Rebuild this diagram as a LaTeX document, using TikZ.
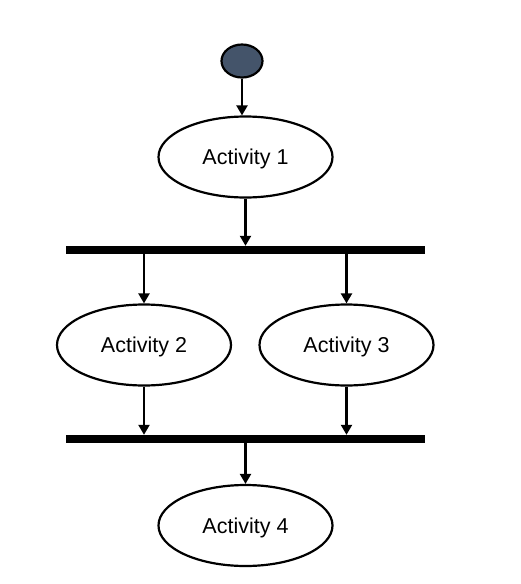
\documentclass[tikz,border=0pt]{standalone}
\usepackage{fontspec}
\setmainfont{Liberation Sans}
\usetikzlibrary{shapes.geometric,arrows.meta}
\definecolor{startfill}{HTML}{44546A}
\begin{document}
\begin{tikzpicture}[x=1pt,y=-1pt,
  activity/.style={ellipse,draw,line width=2.2pt,minimum width=174pt,minimum height=81pt,inner sep=0pt,text height=16pt,text depth=1pt,font=\fontsize{21.5}{25}\selectfont},
  startnode/.style={ellipse,draw,line width=2.2pt,fill=startfill,minimum width=41pt,minimum height=33pt,inner sep=0pt},
  forkbar/.style={rectangle,fill=black,minimum width=359pt,minimum height=8pt,inner sep=0pt},
  flow/.style={line width=2.2pt,-{Triangle[width=11pt,length=10pt]}}]
\useasboundingbox (0,0) rectangle (521,584);
\node[startnode] (s) at (242,61) {};
\node[activity] (a1) at (245.5,157) {Activity 1};
\node[forkbar] (b1) at (245.5,250) {};
\node[activity] (a2) at (144,345) {Activity 2};
\node[activity] (a3) at (346.5,345) {Activity 3};
\node[forkbar] (b2) at (245.5,439) {};
\node[activity] (a4) at (245.5,525.5) {Activity 4};
\draw[flow] (s.south) -- (s.south |- a1.north);
\draw[flow] (a1) -- (a1 |- b1.north);
\draw[flow] (a2 |- b1.south) -- (a2);
\draw[flow] (a3 |- b1.south) -- (a3);
\draw[flow] (a2) -- (a2 |- b2.north);
\draw[flow] (a3) -- (a3 |- b2.north);
\draw[flow] (a4 |- b2.south) -- (a4);
\end{tikzpicture}
\end{document}
